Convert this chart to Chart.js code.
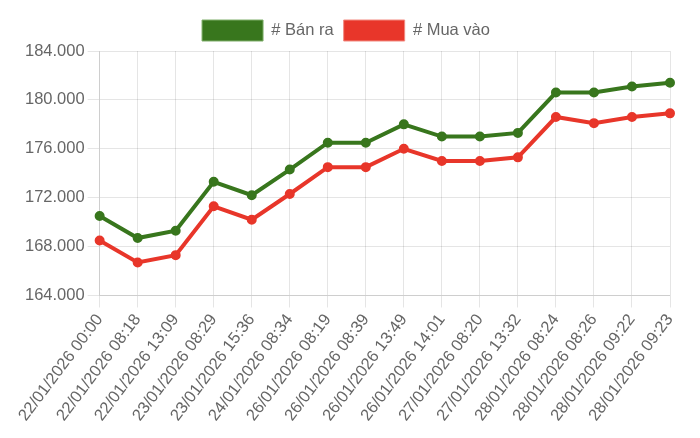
<!DOCTYPE html>
<html>
<head>
<meta charset="utf-8">
<script src="https://cdn.jsdelivr.net/npm/chart.js@4/dist/chart.umd.min.js"></script>
<style>
  html, body { margin: 0; padding: 0; background: #fff; }
  #wrap { width: 700px; height: 438px; }
</style>
</head>
<body>
<div id="wrap"><canvas id="gold-chart"></canvas></div>
<script>
// thời điểm cập nhật giá
const timeLabels = [
    '22/01/2026 00:00', '22/01/2026 08:18', '22/01/2026 13:09', '23/01/2026 08:29',
    '23/01/2026 15:36', '24/01/2026 08:34', '26/01/2026 08:19', '26/01/2026 08:39',
    '26/01/2026 13:49', '26/01/2026 14:01', '27/01/2026 08:20', '27/01/2026 13:32',
    '28/01/2026 08:24', '28/01/2026 08:26', '28/01/2026 09:22', '28/01/2026 09:23'
];

// giá bán ra / mua vào
const sellPrices = [170500, 168700, 169300, 173300, 172200, 174300, 176500, 176500,
                    178000, 177000, 177000, 177300, 180600, 180600, 181100, 181400];
const buyPrices  = [168500, 166700, 167300, 171300, 170200, 172300, 174500, 174500,
                    176000, 175000, 175000, 175300, 178600, 178100, 178600, 178900];

const yMin = 164000;
const yMax = 184000;
const yStep = 4000;

const GREEN = '#38761d';
const RED = '#e8362a';

Chart.defaults.font.family = '"Liberation Sans", Arial, Helvetica, sans-serif';
Chart.defaults.font.size = 16.5;
Chart.defaults.color = '#666';

function formatPrice(value) {
    return String(value).replace(/\B(?=(\d{3})+(?!\d))/g, '.');
}

// ô chú thích: viền mảnh, nhạt hơn màu nền
function legendLabels(chart) {
    const items = Chart.defaults.plugins.legend.labels.generateLabels(chart);
    items.forEach(item => {
        item.lineWidth = 1;
        item.strokeStyle = item.fillStyle === GREEN ? '#7fae6a' : '#f28a80';
    });
    return items;
}

document.addEventListener('DOMContentLoaded', function() {
    const ctx = document.getElementById('gold-chart').getContext('2d');

    new Chart(ctx, {
        type: 'line',
        data: {
            labels: timeLabels,
            datasets: [{
                label: '# Bán ra',
                data: sellPrices,
                borderColor: GREEN,
                backgroundColor: GREEN,
                pointBackgroundColor: GREEN,
                borderWidth: 4,
                pointRadius: 4,
                pointBorderWidth: 2,
                tension: 0
            }, {
                label: '# Mua vào',
                data: buyPrices,
                borderColor: RED,
                backgroundColor: RED,
                pointBackgroundColor: RED,
                borderWidth: 4,
                pointRadius: 4,
                pointBorderWidth: 2,
                tension: 0
            }]
        },
        options: {
            responsive: true,
            maintainAspectRatio: false,
            animation: false,
            layout: {
                padding: { top: 10, right: 30, bottom: 10, left: 22 }
            },
            plugins: {
                legend: {
                    position: 'top',
                    labels: {
                        boxWidth: 61,
                        boxHeight: 21,
                        generateLabels: legendLabels
                    }
                },
                tooltip: { enabled: false }
            },
            scales: {
                x: {
                    grid: { tickLength: 12 },
                    ticks: {
                        autoSkip: false,
                        minRotation: 53,
                        maxRotation: 53
                    }
                },
                y: {
                    min: yMin,
                    max: yMax,
                    grid: { tickLength: 12 },
                    ticks: {
                        stepSize: yStep,
                        callback: function(value) {
                            return formatPrice(value);
                        }
                    }
                }
            }
        }
    });
});
</script>
</body>
</html>
